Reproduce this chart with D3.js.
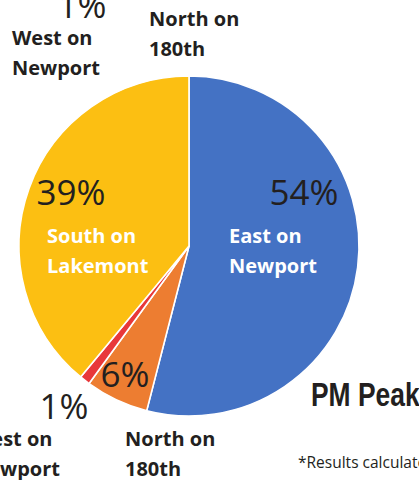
<!DOCTYPE html>
<html>
<head>
<meta charset="utf-8">
<script src="https://cdn.jsdelivr.net/npm/d3@7"></script>
<style>
  html, body { margin: 0; padding: 0; background: #fff; overflow: hidden; }
  svg { display: block; }
</style>
</head>
<body>
<div></div>
<script>
// slice data, clockwise from 12 o'clock
var directions = ["East on Newport", "North on 180th", "West on Newport", "South on Lakemont"];
var shares = [54, 6, 1, 39];
var shareLabels = ["54%", "6%", "1%", "39%"];
var sliceColors = ["#4472C4", "#ED7D31", "#E8383A", "#FCBF12"];

var width = 419, height = 480;
var cx = 189, cy = 246, radius = 170;

var svg = d3.select("body").select("div").append("svg")
	.attr("width", width)
	.attr("height", height);

var pieGroup = svg.append("g").attr("transform", "translate(" + cx + "," + cy + ")");

var pie = d3.pie().sort(null).value(function(d) { return d; });
var arc = d3.arc().innerRadius(0).outerRadius(radius);

pieGroup.selectAll("path")
	.data(pie(shares))
	.enter()
	.append("path")
	.attr("d", arc)
	.style("fill", function(d, i) { return sliceColors[i]; })
	.attr("stroke", "#fff")
	.attr("stroke-width", 1.6)
	.attr("stroke-linejoin", "round");

var dark = "#231F20";
var pctFont = "'Open Sans', sans-serif";

// percentage labels
var pctPos = [
	{x: 304, y: 205, anchor: "middle", i: 0},
	{x: 125, y: 387, anchor: "middle", i: 1},
	{x: 64, y: 419, anchor: "middle", i: 2},
	{x: 71, y: 205, anchor: "middle", i: 3}
];
svg.append("g").selectAll("text")
	.data(pctPos)
	.enter()
	.append("text")
	.attr("x", function(d) { return d.x; })
	.attr("y", function(d) { return d.y; })
	.attr("text-anchor", function(d) { return d.anchor; })
	.style("font-family", pctFont)
	.style("font-size", "35px")
	.style("fill", dark)
	.text(function(d) { return shareLabels[d.i]; });

// two-line name labels
function twoLine(x, y, lines, color) {
	var t = svg.append("text")
		.attr("x", x)
		.attr("y", y)
		.style("font-family", pctFont)
		.style("font-weight", 700)
		.style("font-size", "20px")
		.style("fill", color);
	t.selectAll("tspan")
		.data(lines)
		.enter()
		.append("tspan")
		.attr("x", x)
		.attr("dy", function(d, i) { return i ? 30 : 0; })
		.text(function(d) { return d; });
}

twoLine(229, 243, ["East on", "Newport"], "#fff");
twoLine(47, 243, ["South on", "Lakemont"], "#fff");
twoLine(125, 446, ["North on", "180th"], dark);
twoLine(-28, 446, ["West on", "Newport"], dark);

// pieces of the chart above, cut off by the frame
svg.append("text")
	.attr("x", 82).attr("y", 18)
	.attr("text-anchor", "middle")
	.style("font-family", pctFont)
	.style("font-size", "35px")
	.style("fill", dark)
	.text("1%");
twoLine(12, 45, ["West on", "Newport"], dark);
twoLine(149, 26, ["North on", "180th"], dark);

// condensed bold title
svg.append("text")
	.attr("transform", "translate(311,406) scale(0.8,1)")
	.style("font-family", "'Liberation Sans', Arial, sans-serif")
	.style("font-weight", 700)
	.style("font-size", "33px")
	.style("fill", dark)
	.text("PM Peak");

svg.append("text")
	.attr("x", 298).attr("y", 468)
	.style("font-family", pctFont)
	.style("font-size", "15.5px")
	.style("fill", dark)
	.text("*Results calculated from counts");
</script>
</body>
</html>
